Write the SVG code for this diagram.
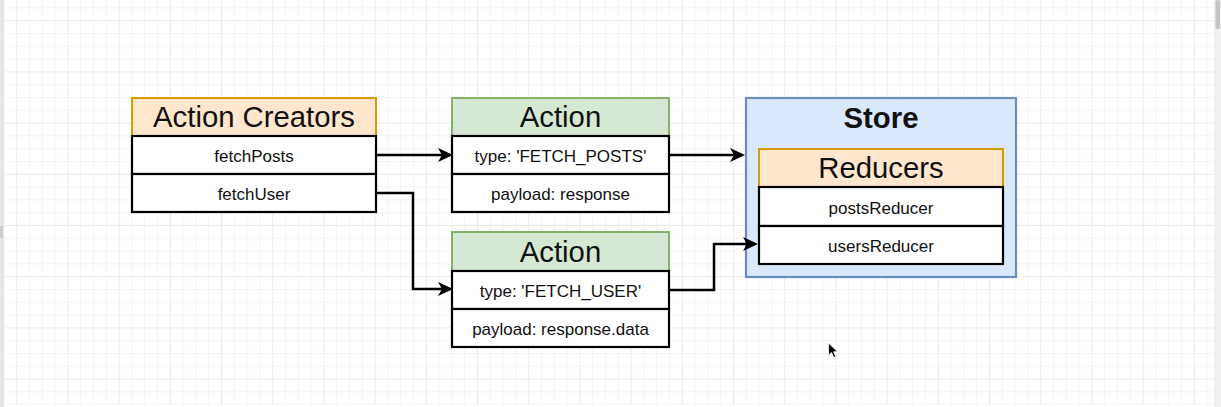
<svg xmlns="http://www.w3.org/2000/svg" width="1221" height="407" viewBox="0 0 1221 407">
  <style>
    .hdr-orange { fill: #ffe6cc; stroke: #d79b00; stroke-width: 2; }
    .hdr-green { fill: #d5e8d4; stroke: #82b366; stroke-width: 2; }
    .row { fill: #ffffff; stroke: #000000; stroke-width: 2.2; }
    .store { fill: #dae8fc; stroke: #6c8ebf; stroke-width: 2.2; }
    .title { font-family: "Liberation Sans", Arial, Helvetica, sans-serif; font-size: 29.3px; fill: #111111; text-anchor: middle; }
    .title-bold { font-weight: bold; }
    .item { font-family: "Liberation Sans", Arial, Helvetica, sans-serif; font-size: 17px; fill: #111111; text-anchor: middle; }
    .link { fill: none; stroke: #000000; stroke-width: 2.5; }
  </style>
  <defs>
    <pattern id="grid" patternUnits="userSpaceOnUse" x="16.2" y="20.2" width="51.2" height="51.2">
      <rect x="0" y="0" width="51.2" height="51.2" fill="#ffffff"/>
      <rect x="12.8" y="0" width="1" height="51.2" fill="#f4f4f4"/>
      <rect x="25.6" y="0" width="1" height="51.2" fill="#f4f4f4"/>
      <rect x="38.4" y="0" width="1" height="51.2" fill="#f4f4f4"/>
      <rect x="0" y="12.8" width="51.2" height="1" fill="#f4f4f4"/>
      <rect x="0" y="25.6" width="51.2" height="1" fill="#f4f4f4"/>
      <rect x="0" y="38.4" width="51.2" height="1" fill="#f4f4f4"/>
      <rect x="0" y="0" width="1" height="51.2" fill="#ebebeb"/>
      <rect x="0" y="0" width="51.2" height="1" fill="#ebebeb"/>
    </pattern>
    <marker id="arrow" markerUnits="userSpaceOnUse" markerWidth="18" markerHeight="18" refX="12" refY="8" orient="auto">
      <path d="M0,1 L15,8 L0,15 L4,8 Z" fill="#000000"/>
    </marker>
  </defs>

  <!-- canvas -->
  <rect x="0" y="0" width="1221" height="407" fill="#ffffff"/>
  <rect x="4" y="0" width="1210" height="405" fill="url(#grid)"/>
  <!-- window edges -->
  <rect x="0" y="0" width="4" height="407" fill="#e6e6e6"/>
  <rect x="0" y="226" width="3" height="12" fill="#cfcfcf"/>
  <rect x="1214" y="0" width="7" height="407" fill="#f0f0f0"/>
  <rect x="1215.5" y="0" width="4.5" height="29" rx="2" fill="#c4c4c4"/>

  <!-- Action Creators -->
  <g id="action-creators">
    <rect class="hdr-orange" x="132" y="98" width="244" height="38"/>
    <text class="title" x="254" y="127">Action Creators</text>
    <rect class="row" x="132" y="136" width="244" height="38"/>
    <text class="item" x="254" y="162">fetchPosts</text>
    <rect class="row" x="132" y="174" width="244" height="38"/>
    <text class="item" x="254" y="200">fetchUser</text>
  </g>

  <!-- Action: FETCH_POSTS -->
  <g id="action-posts">
    <rect class="hdr-green" x="452" y="98" width="217" height="38"/>
    <text class="title" x="560.5" y="127">Action</text>
    <rect class="row" x="452" y="136" width="217" height="38"/>
    <text class="item" x="560.5" y="162">type: 'FETCH_POSTS'</text>
    <rect class="row" x="452" y="174" width="217" height="38"/>
    <text class="item" x="560.5" y="200">payload: response</text>
  </g>

  <!-- Action: FETCH_USER -->
  <g id="action-user">
    <rect class="hdr-green" x="452" y="232" width="217" height="39"/>
    <text class="title" x="560.5" y="261.5">Action</text>
    <rect class="row" x="452" y="271" width="217" height="38"/>
    <text class="item" x="560.5" y="297">type: 'FETCH_USER'</text>
    <rect class="row" x="452" y="309" width="217" height="38"/>
    <text class="item" x="560.5" y="335">payload: response.data</text>
  </g>

  <!-- Store with nested Reducers -->
  <g id="store">
    <rect class="store" x="746" y="98" width="270" height="179"/>
    <text class="title title-bold" x="881" y="128">Store</text>
    <g id="reducers">
      <rect class="hdr-orange" x="759" y="149" width="244" height="38"/>
      <text class="title" x="881" y="177.5">Reducers</text>
      <rect class="row" x="759" y="187" width="244" height="39"/>
      <text class="item" x="881" y="214">postsReducer</text>
      <rect class="row" x="759" y="226" width="244" height="38"/>
      <text class="item" x="881" y="252">usersReducer</text>
    </g>
  </g>

  <!-- connectors -->
  <g id="connectors">
    <path class="link" marker-end="url(#arrow)" d="M376,155 L450,155"/>
    <path class="link" marker-end="url(#arrow)" d="M669,155 L742,155"/>
    <path class="link" marker-end="url(#arrow)" d="M376,193 L413,193 L413,289 L450,289"/>
    <path class="link" marker-end="url(#arrow)" d="M669,290 L714,290 L714,244 L755,244"/>
  </g>

  <!-- mouse pointer -->
  <path d="M828.5,343 L828.5,355.5 L831.5,352.5 L833.8,357.5 L835.8,356.6 L833.6,351.8 L837.5,351.8 Z" fill="#000000" stroke="#ffffff" stroke-width="0.8"/>
</svg>
